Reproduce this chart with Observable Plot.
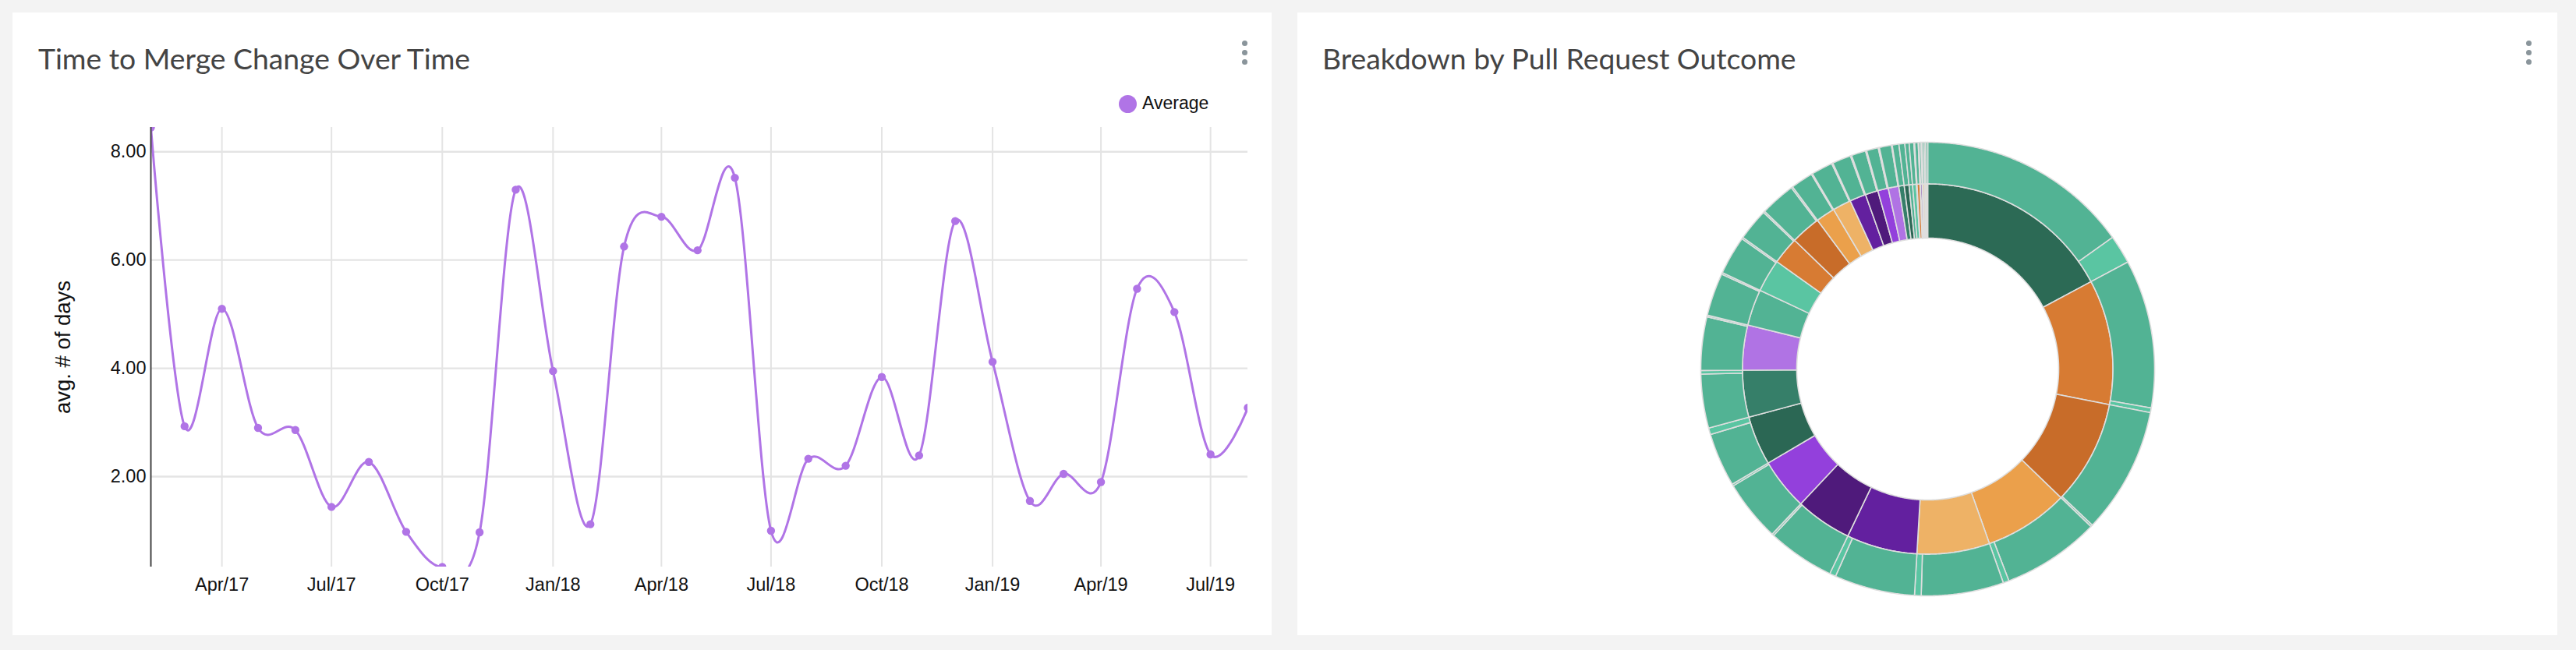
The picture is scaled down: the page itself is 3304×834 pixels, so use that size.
<!DOCTYPE html>
<html>
<head>
<meta charset="utf-8">
<script src="https://cdn.jsdelivr.net/npm/d3@7"></script>
<script src="https://cdn.jsdelivr.net/npm/@observablehq/plot@0.6"></script>
<style>
html, body { margin: 0; padding: 0; background: #f3f3f3; }
body { width: 3304px; height: 834px; position: relative; overflow: hidden; font-family: "Liberation Sans", Arial, sans-serif; }
.card { position: absolute; background: #fff; top: 16px; height: 799px; }
.title { position: absolute; font-family: Lato, sans-serif; font-size: 37.3px; line-height: 37.3px; color: #444; white-space: nowrap; }
.kebab { position: absolute; width: 8px; }
.kebab i { display: block; width: 7.4px; height: 7.4px; border-radius: 50%; background: #8a959b; margin-bottom: 4.4px; }
.legend-dot { position: absolute; width: 23px; height: 23px; border-radius: 50%; }
.legend-text { position: absolute; font-size: 23px; line-height: 23px; color: #111; white-space: nowrap; }
.chart { position: absolute; }
</style>
</head>
<body>
<div class="card" style="left:16px;width:1615px"></div>
<div class="card" style="left:1664px;width:1616px"></div>
<div class="title" style="left:49px;top:56px">Time to Merge Change Over Time</div>
<div class="title" style="left:1696px;top:56px">Breakdown by Pull Request Outcome</div>
<div class="kebab" style="left:1593px;top:52px"><i></i><i></i><i></i></div>
<div class="kebab" style="left:3240px;top:52px"><i></i><i></i><i></i></div>
<div id="legend"></div>
<div id="line" class="chart" style="left:16px;top:150px"></div>
<div id="sun" class="chart" style="left:2152px;top:153px"></div>
<script>
// ---------- Line chart data ----------
const seriesName = "Average";
const yLabel = "avg. # of days";
const months = ["2017-02","2017-03","2017-04","2017-05","2017-06","2017-07","2017-08","2017-09","2017-10","2017-11","2017-12",
  "2018-01","2018-02","2018-03","2018-04","2018-05","2018-06","2018-07","2018-08","2018-09","2018-10","2018-11","2018-12",
  "2019-01","2019-02","2019-03","2019-04","2019-05","2019-06","2019-07","2019-08"];
const avgDays = [8.45, 2.93, 5.10, 2.90, 2.86, 1.44, 2.27, 0.98, 0.33, 0.97, 7.30,
  3.95, 1.12, 6.25, 6.80, 6.18, 7.52, 1.00, 2.33, 2.20, 3.84, 2.39, 6.72,
  4.12, 1.55, 2.05, 1.90, 5.47, 5.04, 2.41, 3.27];
const xTickMonths = ["2017-04","2017-07","2017-10","2018-01","2018-04","2018-07","2018-10","2019-01","2019-04","2019-07"];
const yTicks = [2, 4, 6, 8];
const lineColor = "#b074e6";

// ---------- Sunburst data (inner ring = outcome groups, outer ring = children) ----------
const innerColors = ["#2c6a55","#d77b33","#c86c29","#eba04b","#eeb266","#63209f","#4f1a7b","#9340dc",
  "#2b6754","#367f69","#b073e4","#52b394","#5ac5a2","#d77b33","#c86c29","#eba04b","#eeb266","#63209f",
  "#4f1a7b","#9340dc","#b073e4","#367f69","#2b6754","#52b394","#5ac5a2","#e8e8e8","#d77b33","#e0e0e0",
  "#63209f","#4f1a7b","#eeb266","#eba04b","#e6d5c3"];
const innerValues = [61.8, 39.2, 32.9, 26.5, 22.8, 22.2, 17.7, 16.2,
  15.4, 14.7, 14.1, 11.4, 10.3, 8.6, 9.4, 6.0, 5.8, 5.1,
  4.0, 3.3, 3.3, 1.7, 1.5, 1.1, 1.2, 0.2, 0.9, 0.2,
  0.5, 0.3, 0.5, 0.4, 0.5];
const outerSliver = [7.3, 1.2, 0.5, 1.5, 1.7, 1.6, 0.5, 0.5,
  1.7, 0.9, 0.4, 0.4, 0.4, 0.4, 0.4, 0.3, 0.3, 0.3,
  0.3, 0.3, 0.2, 0, 0, 0, 0, 0, 0, 0,
  0, 0, 0, 0, 0];
const outerMain = "#52b394";
const outerLight = "#5ac5a2";

// ---------- Legend ----------
document.getElementById("legend").innerHTML =
  `<div class="legend-dot" style="left:1435px;top:122px;background:${lineColor}"></div>` +
  `<div class="legend-text" style="left:1465px;top:121px">${seriesName}</div>`;

// ---------- Line chart ----------
const parse = d3.utcParse("%Y-%m");
const lineData = months.map((m, i) => ({date: parse(m), value: avgDays[i]}));
const xTicks = xTickMonths.map(parse);

const lineChart = Plot.plot({
  width: 1615,
  height: 650,
  marginLeft: 177,
  marginRight: 31,
  marginTop: 13,
  marginBottom: 73,
  style: {fontFamily: "'Liberation Sans', Arial, sans-serif", fontSize: "23.5px", color: "#111", background: "transparent"},
  x: {type: "utc", domain: [lineData[0].date, lineData[lineData.length - 1].date], ticks: xTicks,
      tickFormat: d3.utcFormat("%b/%y"), tickSize: 0, tickPadding: 14, label: null},
  y: {domain: d3.extent(avgDays), ticks: yTicks, tickFormat: d3.format(".2f"), tickSize: 0, tickPadding: 6, label: null},
  marks: [
    Plot.ruleY(yTicks, {stroke: "#e4e4e4", strokeWidth: 2.4}),
    Plot.ruleX(xTicks, {stroke: "#e4e4e4", strokeWidth: 2}),
    Plot.line(lineData, {x: "date", y: "value", curve: "cardinal", stroke: lineColor, strokeWidth: 3, clip: true}),
    Plot.dot(lineData, {x: "date", y: "value", r: 5.2, fill: lineColor, clip: true}),
    Plot.ruleX([lineData[0].date], {stroke: "#444", strokeWidth: 2}),
    Plot.text([yLabel], {frameAnchor: "left", textAnchor: "middle", dx: -112, rotate: -90, fontSize: 27.5, fill: "#111"})
  ]
});
document.getElementById("line").appendChild(lineChart);

// ---------- Sunburst ----------
const rootData = {children: innerValues.map((v, i) => ({
  color: innerColors[i],
  children: outerSliver[i] > 0
    ? [{color: outerMain, value: v - outerSliver[i]}, {color: outerLight, value: outerSliver[i]}]
    : [{color: outerMain, value: v}]
}))};
const root = d3.hierarchy(rootData).sum(d => d.children ? 0 : d.value);
d3.partition().size([2 * Math.PI, 1])(root);

const polyPoints = [];
root.descendants().filter(d => d.depth > 0).forEach((d, k) => {
  const r0 = Math.sqrt(d.y0), r1 = Math.sqrt(d.y1);
  const n = Math.max(2, Math.ceil((d.x1 - d.x0) / 0.005));
  const ring = [];
  for (let j = 0; j <= n; j++) { const a = d.x0 + (d.x1 - d.x0) * j / n; ring.push([r1 * Math.sin(a), r1 * Math.cos(a)]); }
  for (let j = n; j >= 0; j--) { const a = d.x0 + (d.x1 - d.x0) * j / n; ring.push([r0 * Math.sin(a), r0 * Math.cos(a)]); }
  ring.push(ring[0]);
  ring.forEach(([x, y]) => polyPoints.push({id: k, x, y, color: d.data.color}));
});

const half = 320 / 291;
const sunChart = Plot.plot({
  width: 640, height: 640,
  margin: 0,
  style: {background: "transparent"},
  x: {domain: [-half, half], axis: null},
  y: {domain: [-half, half], axis: null},
  color: {type: "identity"},
  marks: [
    Plot.line(polyPoints, {x: "x", y: "y", z: "id", fill: "color", stroke: "#dedede", strokeWidth: 1.6, curve: "linear"})
  ]
});
document.getElementById("sun").appendChild(sunChart);
</script>
</body>
</html>
